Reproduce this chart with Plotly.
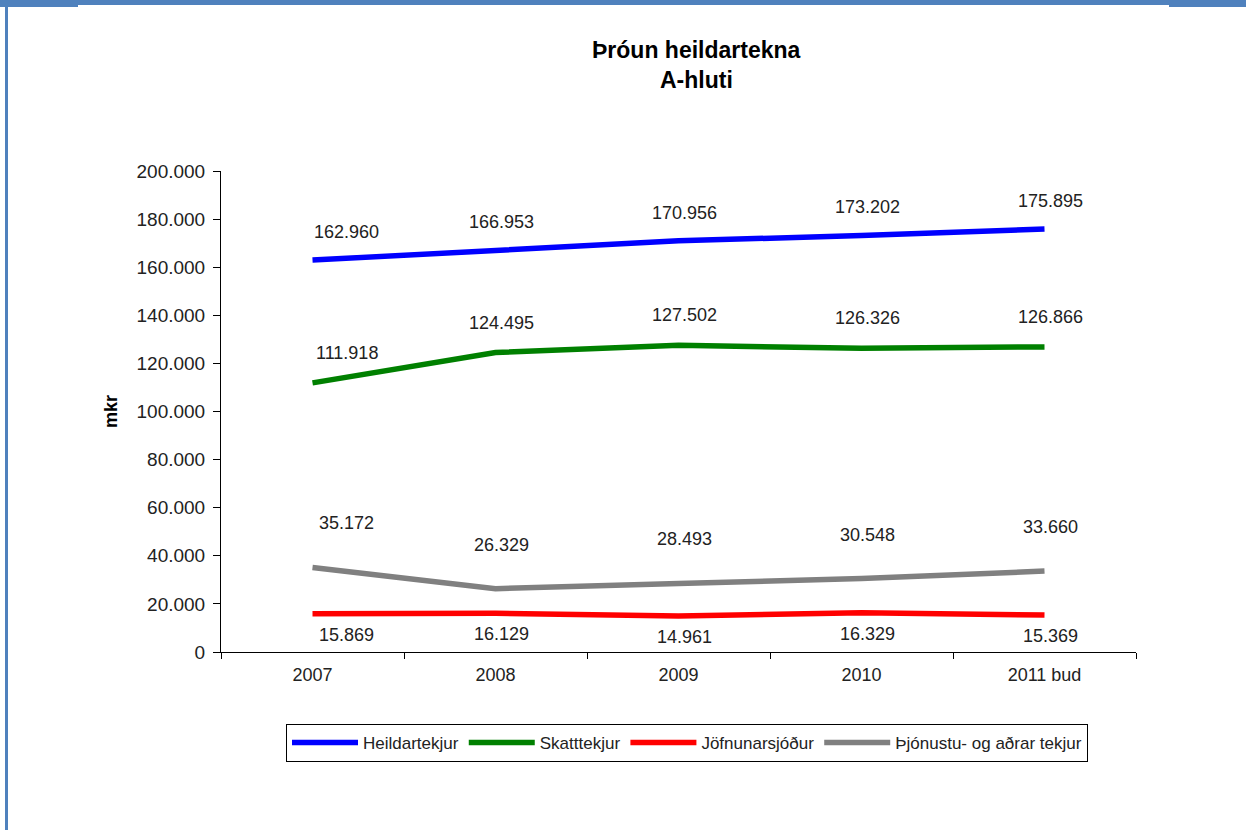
import plotly.graph_objects as go

categories = ["2007", "2008", "2009", "2010", "2011 bud"]
heildartekjur = [162960, 166953, 170956, 173202, 175895]
skatttekjur = [111918, 124495, 127502, 126326, 126866]
jofnunarsjodur = [15869, 16129, 14961, 16329, 15369]
thjonustu = [35172, 26329, 28493, 30548, 33660]
y_ticks = [0, 20000, 40000, 60000, 80000, 100000, 120000, 140000, 160000, 180000, 200000]

series = [
    ("Heildartekjur", heildartekjur, "#0000FF", 28),
    ("Skatttekjur", skatttekjur, "#008000", 30),
    ("Jöfnunarsjóður", jofnunarsjodur, "#FF0000", -21),
    ("Þjónustu- og aðrar tekjur", thjonustu, "#808080", 44),
]

W, H = 1246, 830
L, R, T, B = 221, 110, 171, 178
FONT = "Liberation Sans, Arial, sans-serif"

fig = go.Figure()
annotations = []
for name, vals, color, shift in series:
    fig.add_trace(go.Scatter(
        x=categories, y=vals, mode="lines", name=name,
        line=dict(color=color, width=5.5),
    ))
    for i, v in enumerate(vals):
        label = f"{v:,}".replace(",", ".")
        annotations.append(dict(
            x=i, y=v, xref="x", yref="y", text=label, showarrow=False,
            yshift=shift, xshift=(34 if i == 0 else 6),
            font=dict(family=FONT, size=18, color="#222222"),
        ))

pw = W - L - R
ph = H - T - B
def px(x):
    return (x - L) / pw
def py(y):
    return (H - B - y) / ph

blue = "#4F81BD"
shapes = [
    dict(type="rect", xref="paper", yref="paper", x0=px(0), x1=px(W), y0=py(5), y1=py(0),
         fillcolor=blue, line=dict(width=0), layer="above"),
    dict(type="rect", xref="paper", yref="paper", x0=px(0), x1=px(78), y0=py(7), y1=py(0),
         fillcolor=blue, line=dict(width=0), layer="above"),
    dict(type="rect", xref="paper", yref="paper", x0=px(1169), x1=px(W), y0=py(7), y1=py(0),
         fillcolor=blue, line=dict(width=0), layer="above"),
    dict(type="rect", xref="paper", yref="paper", x0=px(5), x1=px(8), y0=py(H), y1=py(0),
         fillcolor=blue, line=dict(width=0), layer="above"),
]

annotations.append(dict(
    x=px(696), y=py(50), xref="paper", yref="paper", showarrow=False,
    xanchor="center", yanchor="middle",
    text="<b>Þróun heildartekna</b>",
    font=dict(family=FONT, size=23, color="#000000"),
))
annotations.append(dict(
    x=px(696), y=py(80), xref="paper", yref="paper", showarrow=False,
    xanchor="center", yanchor="middle",
    text="<b>A-hluti</b>",
    font=dict(family=FONT, size=23, color="#000000"),
))

fig.update_layout(
    width=W, height=H,
    margin=dict(l=L, r=R, t=T, b=B, autoexpand=False),
    paper_bgcolor="white", plot_bgcolor="white",
    separators=",.",
    showlegend=True,
    legend=dict(
        orientation="h", x=px(687), y=py(743), xanchor="center", yanchor="middle",
        bordercolor="#000000", borderwidth=1,
        font=dict(family=FONT, size=17, color="#222222"),
        itemwidth=66, tracegroupgap=0,
    ),
    xaxis=dict(
        type="category", range=[-0.5, 4.5], tickson="boundaries",
        showline=True, linecolor="#000000", linewidth=1,
        ticks="outside", ticklen=6, tickcolor="#000000",
        showgrid=False, zeroline=False, ticklabelstandoff=6,
        tickfont=dict(family=FONT, size=18, color="#222222"),
    ),
    yaxis=dict(
        range=[0, 200000], tickvals=y_ticks, tickformat=",d",
        showline=True, linecolor="#000000", linewidth=1,
        ticks="outside", ticklen=7, tickcolor="#000000",
        showgrid=False, zeroline=False, ticklabelstandoff=4,
        tickfont=dict(family=FONT, size=19, color="#222222"),
        title=dict(text="<b>mkr</b>", standoff=14,
                   font=dict(family=FONT, size=18, color="#000000")),
    ),
    annotations=annotations,
    shapes=shapes,
)

fig.write_html(
    "out.html",
    config={"displayModeBar": False},
    post_script="document.body.style.margin='0';document.body.style.overflow='hidden';",
)
